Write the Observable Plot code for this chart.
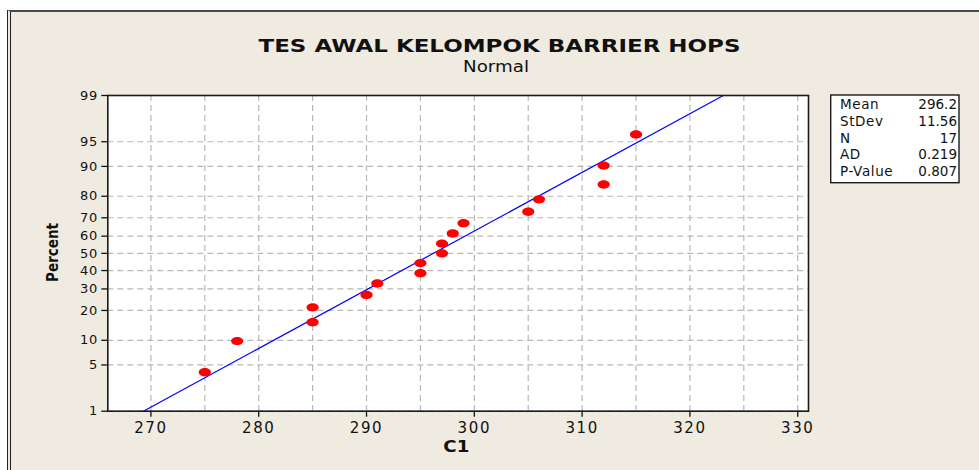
<!DOCTYPE html>
<html>
<head>
<meta charset="utf-8">
<script src="https://cdn.jsdelivr.net/npm/d3@7"></script>
<script src="https://cdn.jsdelivr.net/npm/@observablehq/plot@0.6"></script>
<style>
  html, body { margin: 0; padding: 0; background: white; }
  #wrap { position: relative; width: 979px; height: 470px; overflow: hidden; background: white; font-family: "DejaVu Sans", sans-serif; }
  #panel { position: absolute; left: 7px; top: 10px; width: 1000px; height: 500px; background: #EFEBE1;
           border-top: 2px solid #4a4a4a; border-left: 4px double #222; }
  #chart { position: absolute; left: 0; top: 0; }
  #overlay { position: absolute; left: 0; top: 0; pointer-events: none; }
  #chart g[aria-label="x-axis tick label"] text { letter-spacing: 1.6px; }
  #chart g[aria-label="y-axis tick label"] text { letter-spacing: 0.6px; }
</style>
</head>
<body>
<div id="wrap"><div id="panel"></div><div id="chart"></div><svg id="overlay" width="979" height="470"></svg></div>
<script>
// ---- data ----
const xValues = [275, 278, 285, 285, 290, 291, 295, 295, 297, 297, 298, 299, 305, 306, 312, 312, 315];
const percentValues = [4.0, 9.8, 15.5, 21.3, 27.0, 32.8, 38.5, 44.3, 50.0, 55.7, 61.5, 67.2, 73.0, 78.7, 84.5, 90.2, 96.0];
const fitX = [269.3, 323.1];
const fitPercent = [1, 99];
const xTicks = [270, 280, 290, 300, 310, 320, 330];
const xGridValues = [270, 275, 280, 285, 290, 295, 300, 305, 310, 315, 320, 325, 330];
const percentTicks = [1, 5, 10, 20, 30, 40, 50, 60, 70, 80, 90, 95, 99];
const statLabels = ["Mean", "StDev", "N", "AD", "P-Value"];
const statValues = ["296.2", "11.56", "17", "0.219", "0.807"];
const titleText = "TES AWAL KELOMPOK BARRIER HOPS";
const subtitleText = "Normal";
const xLabel = "C1";
const yLabel = "Percent";

// ---- normal probability scale (inverse normal CDF, Acklam) ----
function probit(p) {
  const a=[-3.969683028665376e+01,2.209460984245205e+02,-2.759285104469687e+02,1.383577518672690e+02,-3.066479806614716e+01,2.506628277459239e+00];
  const b=[-5.447609879822406e+01,1.615858368580409e+02,-1.556989798598866e+02,6.680131188771972e+01,-1.328068155288572e+01];
  const c=[-7.784894002430293e-03,-3.223964580411365e-01,-2.400758277161838e+00,-2.549732539343734e+00,4.374664141464968e+00,2.938163982698783e+00];
  const d=[7.784695709041462e-03,3.224671290700398e-01,2.445134137142996e+00,3.754408661907416e+00];
  const pl = 0.02425, ph = 1 - pl;
  let q, r;
  if (p < pl) { q = Math.sqrt(-2*Math.log(p)); return (((((c[0]*q+c[1])*q+c[2])*q+c[3])*q+c[4])*q+c[5])/((((d[0]*q+d[1])*q+d[2])*q+d[3])*q+1); }
  if (p <= ph) { q = p - 0.5; r = q*q; return (((((a[0]*r+a[1])*r+a[2])*r+a[3])*r+a[4])*r+a[5])*q/(((((b[0]*r+b[1])*r+b[2])*r+b[3])*r+b[4])*r+1); }
  q = Math.sqrt(-2*Math.log(1-p));
  return -(((((c[0]*q+c[1])*q+c[2])*q+c[3])*q+c[4])*q+c[5])/((((d[0]*q+d[1])*q+d[2])*q+d[3])*q+1);
}
const z = pct => probit(pct / 100);
const zTicks = percentTicks.map(z);
const tickLabel = new Map(zTicks.map((v, i) => [v, String(percentTicks[i])]));

const points = xValues.map((x, i) => ({x, p: percentValues[i]}));
const fit = fitX.map((x, i) => ({x, p: fitPercent[i]}));

// ellipse symbol (wider than tall)
const ellipse = {
  draw(ctx, size) {
    const r = Math.sqrt(size / Math.PI), rx = r * 1.45, ry = r, k = 0.5523;
    ctx.moveTo(rx, 0);
    ctx.bezierCurveTo(rx, ry*k, rx*k, ry, 0, ry);
    ctx.bezierCurveTo(-rx*k, ry, -rx, ry*k, -rx, 0);
    ctx.bezierCurveTo(-rx, -ry*k, -rx*k, -ry, 0, -ry);
    ctx.bezierCurveTo(rx*k, -ry, rx, -ry*k, rx, 0);
    ctx.closePath();
  }
};

const gridStyle = {stroke: "#b8b8b8", strokeOpacity: 1, strokeWidth: 1.2, strokeDasharray: "6,4"};

const chart = Plot.plot({
  width: 979,
  height: 470,
  marginLeft: 107.3,
  marginRight: 171,
  marginTop: 95,
  marginBottom: 59.3,
  style: {background: "transparent", fontFamily: "DejaVu Sans", color: "#111", overflow: "visible"},
  x: {domain: [266, 331]},
  y: {domain: [z(1), z(99)]},
  marks: [
    Plot.frame({fill: "white"}),
    Plot.gridX(xGridValues, gridStyle),
    Plot.gridY(zTicks, gridStyle),
    Plot.line(fit, {x: "x", y: d => z(d.p), stroke: "#0000ff", strokeWidth: 1.2}),
    Plot.dot(points, {x: "x", y: d => z(d.p), r: 4.2, symbol: ellipse, fill: "#ff0000", stroke: "none"}),
    Plot.axisX(xTicks, {tickSize: 6, tickPadding: 5, fontSize: 15, label: null, stroke: "#111", strokeWidth: 1.3}),
    Plot.axisY(zTicks, {tickSize: 6, tickPadding: 4, fontSize: 13, label: null, tickFormat: v => tickLabel.get(v), stroke: "#111", strokeWidth: 1.3}),
    Plot.frame({stroke: "#1a1a1a", strokeWidth: 1.6})
  ]
});
document.getElementById("chart").appendChild(chart);

// ---- titles, axis labels, stats box ----
const ov = d3.select("#overlay");
function txt(s, x, y, o = {}) {
  const t = ov.append("text").attr("x", x).attr("y", y).text(s)
    .attr("font-family", o.family || "DejaVu Sans")
    .attr("font-size", o.size || 13)
    .attr("font-weight", o.weight || "normal")
    .attr("fill", "#111")
    .attr("text-anchor", o.anchor || "middle");
  if (o.len) t.attr("textLength", o.len).attr("lengthAdjust", "spacingAndGlyphs");
  if (o.rotate) t.attr("transform", `rotate(-90 ${x} ${y})`);
  if (o.ls) t.attr("letter-spacing", o.ls);
  return t;
}
txt(titleText, 499.5, 51.7, {size: 18, weight: "bold", len: 482});
txt(subtitleText, 496, 71.5, {size: 15.5, len: 66});
txt(xLabel, 456.3, 451.7, {size: 15, weight: "bold", len: 26});
txt(yLabel, 58, 252.5, {size: 16, weight: "bold", len: 59, rotate: true});

ov.append("rect").attr("x", 830.7).attr("y", 95).attr("width", 128.3).attr("height", 87.7)
  .attr("fill", "white").attr("stroke", "#1a1a1a").attr("stroke-width", 1.4);
statLabels.forEach((s, i) => {
  const y = 109.3 + i * 16.7;
  txt(s, 840, y, {size: 13.5, anchor: "start", ls: 0.6});
  txt(statValues[i], 957, y, {size: 13.5, anchor: "end"});
});
</script>
</body>
</html>
